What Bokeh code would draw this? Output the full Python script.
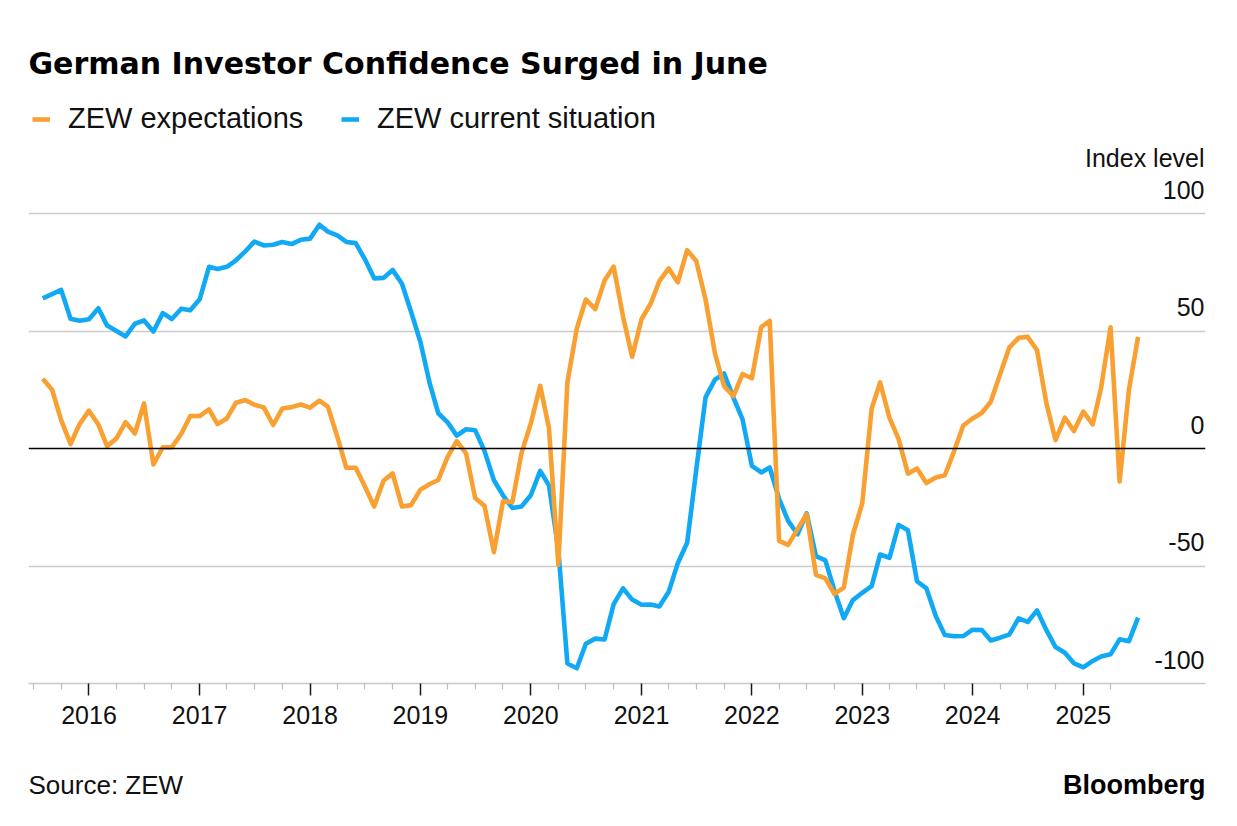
import pandas as pd
from datetime import datetime
from bokeh.plotting import figure
from bokeh.layouts import column
from bokeh.models import (Range1d, FixedTicker, DatetimeTickFormatter, Span,
                          Label, Legend, LegendItem, ColumnDataSource)
from bokeh.core.properties import value
from bokeh.embed import file_html
from bokeh.resources import INLINE

# ---------------- data (monthly, Jul 2015 - Jun 2025) ----------------
FIRST_MONTH = "2015-07"
EXPECTATIONS = [
    29.7, 25.0, 12.1, 1.9, 10.4, 16.1,
    10.2, 1.0, 4.3, 11.2, 6.4, 19.2, -6.8, 0.5, 0.5, 6.2, 13.8, 13.8,
    16.6, 10.4, 12.8, 19.5, 20.6, 18.6, 17.5, 10.0, 17.0, 17.6, 18.7, 17.4,
    20.4, 17.8, 5.1, -8.2, -8.2, -16.1, -24.7, -13.7, -10.6, -24.7, -24.1, -17.5,
    -15.1, -13.4, -3.6, 3.1, -2.1, -21.1, -24.5, -44.1, -22.5, -22.8, -2.1, 10.7,
    26.7, 8.7, -49.5, 28.2, 51.0, 63.4, 59.3, 71.5, 77.4, 56.1, 39.0, 55.0,
    61.8, 71.2, 76.6, 70.7, 84.4, 79.8, 63.3, 40.4, 26.5, 22.3, 31.7, 29.9,
    51.7, 54.3, -39.3, -41.0, -34.3, -28.0, -53.8, -55.3, -61.9, -59.2, -36.7, -23.3,
    16.9, 28.1, 13.0, 4.1, -10.7, -8.5, -14.7, -12.3, -11.4, -1.1, 9.8, 12.8,
    15.2, 19.9, 31.7, 42.9, 47.1, 47.5, 41.8, 19.2, 3.6, 13.1, 7.4, 15.7,
    10.3, 26.0, 51.6, -14.0, 25.2, 47.5,
]
CURRENT = [
    63.9, 65.7, 67.5, 55.2, 54.4, 55.0,
    59.7, 52.3, 50.0, 47.7, 53.1, 54.5, 49.8, 57.6, 55.1, 59.5, 58.8, 63.5,
    77.3, 76.4, 77.3, 80.1, 83.9, 88.0, 86.4, 86.7, 87.9, 87.0, 88.8, 89.3,
    95.2, 92.3, 90.7, 87.9, 87.4, 80.6, 72.4, 72.6, 76.0, 70.1, 58.2, 45.3,
    27.6, 15.0, 11.1, 5.5, 8.2, 7.8, -1.1, -13.5, -19.9, -25.3, -24.7, -19.9,
    -9.5, -15.7, -43.1, -91.5, -93.5, -83.1, -80.9, -81.3, -66.2, -59.5, -64.3, -66.5,
    -66.4, -67.2, -61.0, -48.8, -40.1, -9.1, 21.9, 29.3, 31.9, 21.6, 12.5, -7.4,
    -10.2, -8.1, -21.4, -30.8, -36.5, -27.6, -45.8, -47.6, -60.5, -72.2, -64.5, -61.4,
    -58.6, -45.1, -46.5, -32.5, -34.8, -56.5, -59.5, -71.3, -79.4, -79.9, -79.8, -77.1,
    -77.3, -81.7, -80.5, -79.2, -72.3, -73.8, -68.9, -77.3, -84.5, -86.9, -91.4, -93.1,
    -90.4, -88.5, -87.6, -81.2, -82.0, -72.0,
]
SERIES_NAMES = ["ZEW expectations", "ZEW current situation"]
YEAR_TICKS = [2016, 2017, 2018, 2019, 2020, 2021, 2022, 2023, 2024, 2025]
Y_TICKS = [-100, -50, 0, 50, 100]
Y_TICK_LABELS = ["-100", "-50", "0", "50", "100"]

TITLE = "German Investor Confidence Surged in June"
UNIT_LABEL = "Index level"
SOURCE = "Source: ZEW"
BRAND = "Bloomberg"

# ---------------- styling ----------------
ORANGE = "#F9A033"
BLUE = "#12A9F4"
TEXT = "#111111"
FONT = "Liberation Sans"

dates = pd.period_range(FIRST_MONTH, periods=len(EXPECTATIONS), freq="M").to_timestamp(how="end")
src = ColumnDataSource(dict(date=dates, exp=EXPECTATIONS, cur=CURRENT))

W = 1221
HM, HF = 745, 65
B_LEFT, B_RIGHT, B_TOP, B_BOTTOM = 28, 16, 8, 62
frame_h = HM - B_TOP - B_BOTTOM
frame_w = W - B_LEFT - B_RIGHT
frame_bottom = HM - B_BOTTOM
px_per_unit = 2.35
y_end = -100 + frame_h / px_per_unit

x_start = datetime(2015, 6, 15)
x_end = datetime(2026, 2, 9)

p = figure(width=W, height=HM, x_axis_type="datetime", y_axis_location=None,
           title=None, output_backend="svg", toolbar_location=None,
           x_range=Range1d(x_start, x_end), y_range=Range1d(-100, y_end),
           min_border_left=B_LEFT, min_border_right=B_RIGHT,
           min_border_top=B_TOP, min_border_bottom=B_BOTTOM)
p.outline_line_color = None
p.background_fill_color = "white"
p.border_fill_color = "white"
p.xgrid.visible = False
p.ygrid.ticker = FixedTicker(ticks=[t for t in Y_TICKS if t not in (0, -100)])
p.ygrid.grid_line_color = "#cccccc"
p.ygrid.grid_line_width = 1.5


def ms(ts):
    return pd.Timestamp(ts).value / 1e6


major = [ms(f"{y}-01-01") for y in YEAR_TICKS]
minor = [ms(d) for d in pd.date_range("2015-07-01", "2025-04-01", freq="QS") if d.month != 1]
ax = p.xaxis[0]
ax.ticker = FixedTicker(ticks=major, minor_ticks=minor)
fmt = "%Y"
ax.formatter = DatetimeTickFormatter(years=fmt, months=fmt, days=fmt, hours=fmt,
                                     minutes=fmt, seconds=fmt, milliseconds=fmt,
                                     microseconds=fmt, minsec=fmt, hourmin=fmt)
ax.axis_line_color = "#c8c8c8"
ax.axis_line_width = 1.5
ax.major_tick_line_color = "#1a1a1a"
ax.major_tick_line_width = 1.5
ax.major_tick_out = 12
ax.major_tick_in = 0
ax.minor_tick_line_color = "#bdbdbd"
ax.minor_tick_line_width = 1.2
ax.minor_tick_out = 6
ax.minor_tick_in = 0
ax.major_label_text_font = FONT
ax.major_label_text_font_size = "25px"
ax.major_label_text_color = TEXT
ax.major_label_standoff = 10

p.add_layout(Span(location=0, dimension="width", line_color="black", line_width=1.6))

r_cur = p.line("date", "cur", source=src, line_color=BLUE, line_width=4.6, line_join="round")
r_exp = p.line("date", "exp", source=src, line_color=ORANGE, line_width=4.6, line_join="round")

# y tick labels sitting above their grid lines, right aligned at the frame edge
ysrc = ColumnDataSource(dict(x=[x_end] * len(Y_TICKS), y=Y_TICKS, t=Y_TICK_LABELS))
p.text(x="x", y="y", text="t", source=ysrc, text_align="right", text_baseline="middle",
       x_offset=-1, y_offset=-24, text_font=value(FONT), text_font_size="25px", text_color=TEXT)

p.add_layout(Label(x=frame_w - 1, y=frame_bottom - 157.5, x_units="screen", y_units="screen",
                   text=UNIT_LABEL, text_align="right", text_baseline="middle", text_font=FONT,
                   text_font_size="25px", text_color=TEXT))
p.add_layout(Label(x=0, y=frame_bottom - 62.5, x_units="screen", y_units="screen", text=TITLE,
                   text_align="left", text_baseline="middle", text_font="DejaVu Sans",
                   text_font_style="bold", text_font_size="30px", text_color="black"))

legend = Legend(items=[LegendItem(label=SERIES_NAMES[0], renderers=[r_exp]),
                       LegendItem(label=SERIES_NAMES[1], renderers=[r_cur])],
                orientation="horizontal", location=(4, frame_bottom - 137 + 2), padding=0, margin=0,
                spacing=0, glyph_width=18, glyph_height=30, label_standoff=18,
                label_width=273, label_height=30,
                label_text_font=FONT, label_text_font_size="29px", label_text_color=TEXT,
                border_line_color=None, background_fill_alpha=0)
p.add_layout(legend)

# footer strip with source and brand (its frame is aligned with the chart frame)
f = figure(width=W, height=HF, x_axis_location=None, y_axis_location=None, title=None,
           output_backend="svg", toolbar_location=None,
           x_range=Range1d(B_LEFT, W - B_RIGHT), y_range=Range1d(0, HF),
           min_border_left=B_LEFT, min_border_right=B_RIGHT, min_border_top=0, min_border_bottom=0)
f.outline_line_color = None
f.grid.visible = False
f.text(x=[B_LEFT], y=[HF - 39], text=[SOURCE], text_align="left", text_baseline="middle",
       text_font=value(FONT), text_font_size="26px", text_color=TEXT)
f.text(x=[W - B_RIGHT], y=[HF - 39], text=[BRAND], text_align="right", text_baseline="middle",
       text_font=value(FONT), text_font_style="bold", text_font_size="27px", text_color="black")

open("out.html", "w").write(file_html(column(p, f, spacing=0), INLINE))
